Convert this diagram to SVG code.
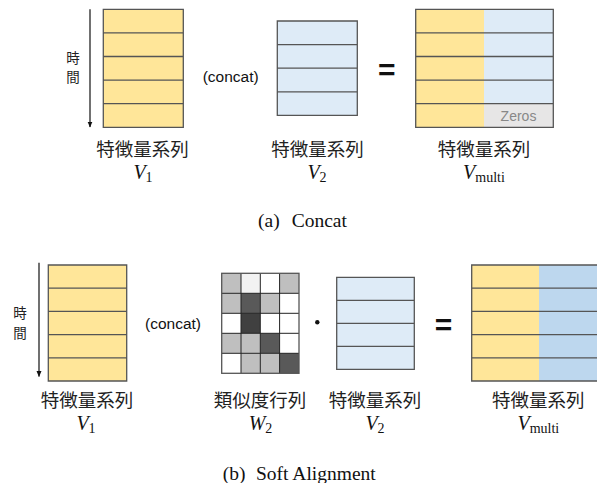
<svg xmlns="http://www.w3.org/2000/svg" width="597" height="483" viewBox="0 0 597 483">
<style>
.y{fill:#ffe699}
.b{fill:#deebf7}
.bb{fill:#bdd7ee}
.ln{stroke:#555;stroke-width:1.3;fill:none}
.gl{stroke:#222;stroke-width:1;fill:none}
.jp{font-family:"Noto Sans CJK JP",sans-serif;font-size:18.5px;fill:#222;text-anchor:middle}
.tj{font-family:"Noto Sans CJK JP",sans-serif;font-size:13.5px;fill:#222;text-anchor:middle}
.cc{font-family:"Liberation Sans",Arial,sans-serif;font-size:15.5px;fill:#111}
.eq{font-family:"Liberation Sans",Arial,sans-serif;font-size:30px;font-weight:bold;fill:#111;text-anchor:middle}
.m{font-family:"Liberation Serif",serif;font-size:20px;font-style:italic;fill:#111;text-anchor:middle}
.s{font-style:normal;font-size:14px}
.cap{font-family:"Liberation Serif",serif;font-size:19.5px;fill:#111}
.g1{fill:#bfbfbf}.g0{fill:#f2f2f2}.g2{fill:#595959}.g3{fill:#404040}.w{fill:#fff}
</style>
<defs>
<marker id="ah" viewBox="0 0 6 6" refX="5.5" refY="3" markerWidth="6" markerHeight="6" orient="auto" markerUnits="userSpaceOnUse">
<path d="M0,0.5 L6,3 L0,5.5 Z" fill="#111"/>
</marker>
</defs>

<!-- connectors: time arrows -->
<g id="connectors">
<line x1="90" y1="9.3" x2="90" y2="127" stroke="#111" stroke-width="1.2" marker-end="url(#ah)"/>
<line x1="39" y1="262.7" x2="39" y2="376.5" stroke="#111" stroke-width="1.2" marker-end="url(#ah)"/>
</g>

<!-- (a) Concat -->
<g id="a-time">
<text class="tj" x="73" y="63">時</text>
<text class="tj" x="73" y="82">間</text>
</g>
<g id="a-V1">
<rect class="y" x="103.3" y="9.3" width="80" height="118"/>
<path class="ln" d="M103.3,9.3H183.3V127.3H103.3Z M103.3,32.9H183.3 M103.3,56.5H183.3 M103.3,80.1H183.3 M103.3,103.7H183.3"/>
<text class="jp" x="142.5" y="156">特徴量系列</text>
<text class="m" x="143" y="178.5">V<tspan class="s" dy="3">1</tspan></text>
</g>
<text class="cc" x="202.7" y="82">(concat)</text>
<g id="a-V2">
<rect class="b" x="277.3" y="21" width="80" height="94.4"/>
<path class="ln" d="M277.3,21H357.3V115.4H277.3Z M277.3,44.6H357.3 M277.3,68.2H357.3 M277.3,91.8H357.3"/>
<text class="jp" x="317.5" y="156">特徴量系列</text>
<text class="m" x="317" y="178.5">V<tspan class="s" dy="3">2</tspan></text>
</g>
<text class="eq" x="386.8" y="80">=</text>
<g id="a-Vmulti">
<rect class="y" x="415.7" y="9.3" width="68.3" height="118"/>
<rect class="b" x="484" y="9.3" width="69.3" height="94.4"/>
<rect fill="#e7e6e6" x="484" y="103.7" width="69.3" height="23.6"/>
<path class="ln" d="M415.7,9.3H553.3V127.3H415.7Z M415.7,32.9H553.3 M415.7,56.5H553.3 M415.7,80.1H553.3 M415.7,103.7H553.3"/>
<text x="518.5" y="120.5" font-family="Liberation Sans,Arial,sans-serif" font-size="14" fill="#888" text-anchor="middle">Zeros</text>
<text class="jp" x="484" y="156">特徴量系列</text>
<text class="m" x="484" y="178.5">V<tspan class="s" dy="3">multi</tspan></text>
</g>
<g id="cap-a">
<text class="cap" x="258" y="227">(a)</text>
<text class="cap" x="291.7" y="227">Concat</text>
</g>

<!-- (b) Soft Alignment -->
<g id="b-time">
<text class="tj" x="20" y="318">時</text>
<text class="tj" x="20" y="338">間</text>
</g>
<g id="b-V1">
<rect class="y" x="48.3" y="265" width="78.4" height="116"/>
<path class="ln" d="M48.3,265H126.7V381H48.3Z M48.3,288.2H126.7 M48.3,311.4H126.7 M48.3,334.6H126.7 M48.3,357.8H126.7"/>
<text class="jp" x="87" y="406.7">特徴量系列</text>
<text class="m" x="86" y="430">V<tspan class="s" dy="3">1</tspan></text>
</g>
<text class="cc" x="145" y="328.5">(concat)</text>
<g id="b-W2">
<rect class="g1" x="221.7" y="273.3" width="19.3" height="20"/>
<rect class="g0" x="241" y="273.3" width="19.3" height="20"/>
<rect class="w" x="260.3" y="273.3" width="19.3" height="20"/>
<rect class="g1" x="279.6" y="273.3" width="19.4" height="20"/>
<rect class="g1" x="221.7" y="293.3" width="19.3" height="20"/>
<rect class="g2" x="241" y="293.3" width="19.3" height="20"/>
<rect class="g1" x="260.3" y="293.3" width="19.3" height="20"/>
<rect class="w" x="279.6" y="293.3" width="19.4" height="20"/>
<rect class="w" x="221.7" y="313.3" width="19.3" height="20"/>
<rect class="g3" x="241" y="313.3" width="19.3" height="20"/>
<rect class="w" x="260.3" y="313.3" width="19.3" height="20"/>
<rect class="w" x="279.6" y="313.3" width="19.4" height="20"/>
<rect class="g1" x="221.7" y="333.3" width="19.3" height="20"/>
<rect class="g1" x="241" y="333.3" width="19.3" height="20"/>
<rect class="g2" x="260.3" y="333.3" width="19.3" height="20"/>
<rect class="w" x="279.6" y="333.3" width="19.4" height="20"/>
<rect class="w" x="221.7" y="353.3" width="19.3" height="20"/>
<rect class="g1" x="241" y="353.3" width="19.3" height="20"/>
<rect class="g1" x="260.3" y="353.3" width="19.3" height="20"/>
<rect class="g2" x="279.6" y="353.3" width="19.4" height="20"/>
<path class="gl" d="M241,273.3V373.3 M260.3,273.3V373.3 M279.6,273.3V373.3 M221.7,293.3H299 M221.7,313.3H299 M221.7,333.3H299 M221.7,353.3H299"/>
<rect class="ln" x="221.7" y="273.3" width="77.3" height="100"/>
<text class="jp" x="260" y="406.7">類似度行列</text>
<text class="m" x="260.5" y="430">W<tspan class="s" dy="3">2</tspan></text>
</g>
<circle cx="317.3" cy="322.3" r="2.2" fill="#111"/>
<g id="b-V2">
<rect class="b" x="336.7" y="277.3" width="77.6" height="92"/>
<path class="ln" d="M336.7,277.3H414.3V369.3H336.7Z M336.7,300.3H414.3 M336.7,323.3H414.3 M336.7,346.3H414.3" stroke="#222"/>
<text class="jp" x="375" y="406.7">特徴量系列</text>
<text class="m" x="375" y="430">V<tspan class="s" dy="3">2</tspan></text>
</g>
<text class="eq" x="443.4" y="335">=</text>
<g id="b-Vmulti">
<rect class="y" x="471.7" y="265" width="67.3" height="116"/>
<rect class="bb" x="539" y="265" width="58" height="116"/>
<path class="ln" d="M597,265H471.7V381H597 M471.7,288.2H597 M471.7,311.4H597 M471.7,334.6H597 M471.7,357.8H597"/>
<text class="jp" x="538.3" y="406.7">特徴量系列</text>
<text class="m" x="538.3" y="430">V<tspan class="s" dy="3">multi</tspan></text>
</g>
<g id="cap-b">
<text class="cap" x="222.7" y="480">(b)</text>
<text class="cap" x="256" y="480">Soft Alignment</text>
</g>
</svg>
